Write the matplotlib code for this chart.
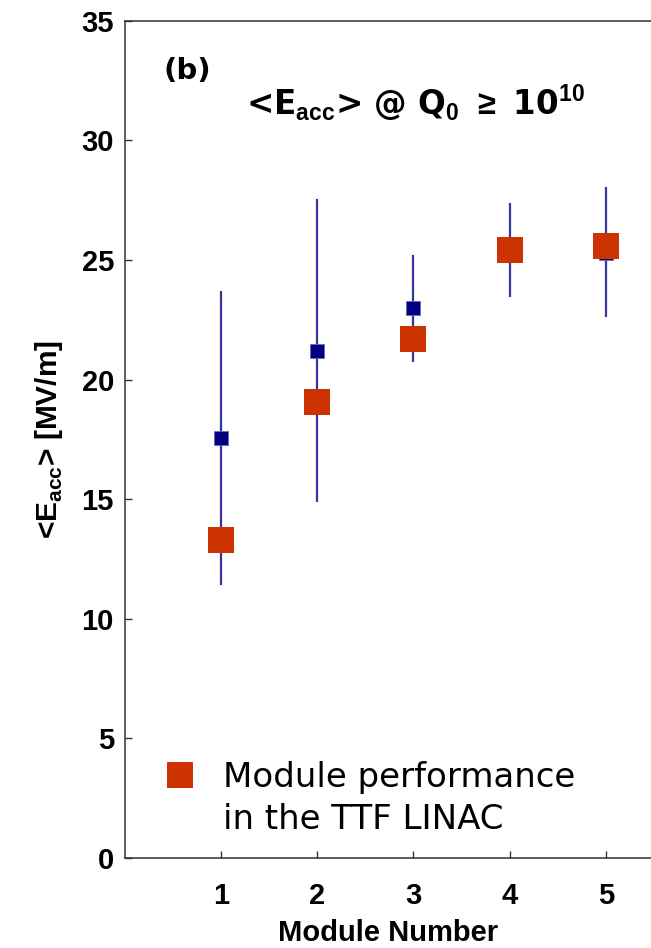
import matplotlib
matplotlib.use('Agg')
import matplotlib.pyplot as plt
from matplotlib.lines import Line2D
import numpy as np

# average E_acc per module
modules = [1, 2, 3, 4, 5]
linac_eacc = [13.3, 19.05, 21.7, 25.4, 25.6]      # module performance in the TTF LINAC (red)
vertical_eacc = [17.55, 21.2, 23.0, 25.4, 25.3]   # vertical test average (blue)
err_low = [11.4, 14.9, 20.75, 23.45, 22.6]        # lower end of spread
err_high = [23.7, 27.55, 25.2, 27.4, 28.05]       # upper end of spread

y_ticks = [0, 5, 10, 15, 20, 25, 30, 35]
legend_lines = ['Module performance', 'in the TTF LINAC']

red = '#cc3300'
navy = '#000080'
bar_blue = '#3434a0'

plt.rcParams['font.family'] = ['Liberation Sans', 'DejaVu Sans']
plt.rcParams['mathtext.fontset'] = 'custom'
plt.rcParams['mathtext.rm'] = 'Liberation Sans:bold'
plt.rcParams['mathtext.bf'] = 'Liberation Sans:bold'

fig = plt.figure(figsize=(6.51, 9.48), dpi=100)
ax = fig.add_axes([0.192, 0.095, 0.808, 0.883])

vertical_eacc = np.array(vertical_eacc)
yerr = [vertical_eacc - np.array(err_low), np.array(err_high) - vertical_eacc]
ax.errorbar(modules, vertical_eacc, yerr=yerr, fmt='s', color=navy, ecolor=bar_blue,
            elinewidth=1.6, capsize=0, markersize=10.5, markeredgecolor='#6a6ac0',
            markeredgewidth=0.6, zorder=2)
red_pts, = ax.plot(modules, linac_eacc, 's', color=red, markersize=18.5,
                   markeredgewidth=0, zorder=3)

ax.set_xlim(0, 5.47)
ax.set_ylim(0, 35)
ax.set_xticks(modules)
ax.set_yticks(y_ticks)
ax.spines['right'].set_visible(False)
for s in ['left', 'top', 'bottom']:
    ax.spines[s].set_color('#333333')
    ax.spines[s].set_linewidth(1.1)
ax.tick_params(axis='both', direction='in', length=5, width=1, color='#333333',
               labelsize=21)
ax.tick_params(axis='x', pad=17)
ax.tick_params(axis='y', pad=8)
for lab in ax.get_xticklabels() + ax.get_yticklabels():
    lab.set_fontweight('bold')

ax.set_xlabel('Module Number', fontsize=21, fontweight='bold', labelpad=7)
ax.set_ylabel(r'<E$_{\mathbf{acc}}$> [MV/m]', fontsize=21.5, fontweight='bold', labelpad=12)

ax.text(0.118, 0.94, '(b)', transform=ax.transAxes, fontsize=21, fontweight='bold',
        ha='center', va='center', family='DejaVu Sans')
ax.text(0.552, 0.888, r'<E$_{\mathrm{acc}}$> @ Q$_{\mathrm{0}}$ $\geq$ 10$^{\mathrm{10}}$',
        transform=ax.transAxes, fontsize=23.5, fontweight='bold', ha='center',
        va='baseline', family='DejaVu Sans')

# legend: red marker on the first line, text continues on second line
blank = Line2D([], [], linestyle='none', marker=None)
ax.legend(handles=[red_pts, blank], labels=legend_lines, loc='upper left',
          bbox_to_anchor=(0.047, 0.132), frameon=False, handletextpad=0.75,
          handlelength=1.0, borderaxespad=0, labelspacing=0.25,
          prop={'family': 'DejaVu Sans', 'size': 24.5})

fig.savefig('out.png', dpi=100)
